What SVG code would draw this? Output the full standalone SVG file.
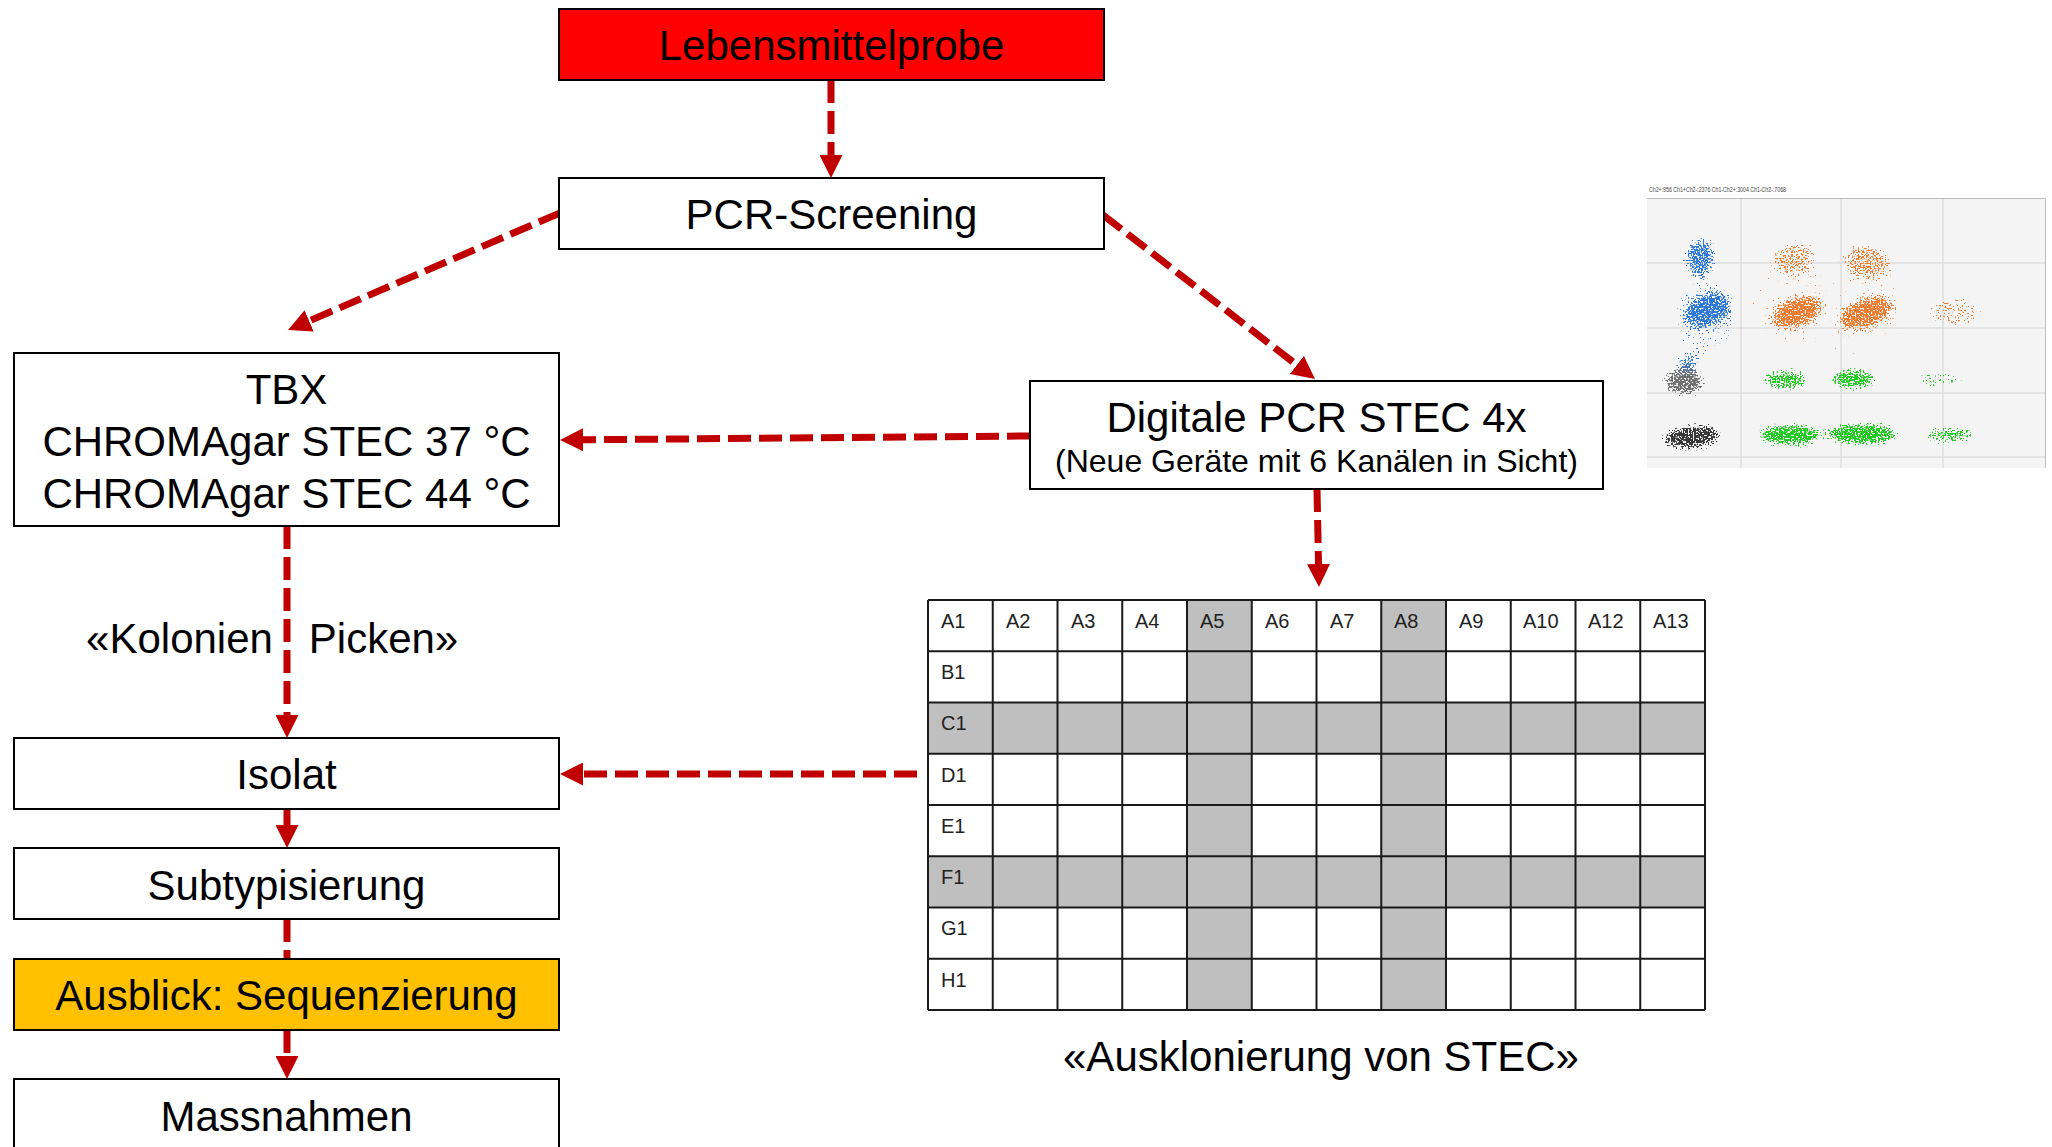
<svg xmlns="http://www.w3.org/2000/svg" width="2052" height="1147" viewBox="0 0 2052 1147">
<style>
.box{fill:#FFFFFF;stroke:#000000;stroke-width:2}
.t42{font-family:"Liberation Sans",Arial,sans-serif;font-size:42px;fill:#000000;text-anchor:middle}
.t32{font-family:"Liberation Sans",Arial,sans-serif;font-size:32px;fill:#000000;text-anchor:middle}
.cell{font-family:"Liberation Sans",Arial,sans-serif;font-size:20px;fill:#222222}
.con{fill:none;stroke:#C00000;stroke-width:7;stroke-dasharray:23 8;marker-end:url(#ah)}
.conplain{fill:none;stroke:#C00000;stroke-width:7;stroke-dasharray:23 8}
.grid{fill:none;stroke:#1A1A1A;stroke-width:2}
.shade{fill:#BFBFBF}
.pgrid{fill:none;stroke:#D4D4D4;stroke-width:1}
</style>
<defs>
<marker id="ah" markerUnits="userSpaceOnUse" markerWidth="23" markerHeight="23" refX="3" refY="11.5" orient="auto">
<path d="M0,0 L23,11.5 L0,23 z" fill="#C00000"/>
</marker>
<filter id="speckle" filterUnits="userSpaceOnUse" x="1645" y="198" width="402" height="272" color-interpolation-filters="sRGB">
<feGaussianBlur in="SourceGraphic" stdDeviation="5" result="soft"/>
<feColorMatrix in="soft" type="matrix" values="0 0 0 0 0  0 0 0 0 0  0 0 0 0 0  0 0 0 1 0" result="softA"/>
<feTurbulence type="fractalNoise" baseFrequency="0.6" numOctaves="1" seed="11" result="noise"/>
<feColorMatrix in="noise" type="matrix" values="0 0 0 0 0  0 0 0 0 0  0 0 0 0 0  1 0 0 0 0" result="na"/>
<feComposite in="softA" in2="na" operator="arithmetic" k1="0" k2="0.55" k3="1" k4="-0.92" result="sum"/>
<feComponentTransfer in="sum" result="mask"><feFuncA type="linear" slope="20" intercept="0"/></feComponentTransfer>
<feComponentTransfer in="soft" result="softB"><feFuncA type="linear" slope="8" intercept="0"/></feComponentTransfer>
<feComposite in="softB" in2="mask" operator="in"/>
</filter>
</defs>
<rect x="0" y="0" width="2052" height="1147" fill="#FFFFFF"/>

<g id="connectors">
<line class="con" x1="831" y1="80" x2="831" y2="158"/>
<line class="con" x1="560" y1="213" x2="306.4" y2="322.1"/>
<line class="con" x1="1103" y1="215" x2="1299.2" y2="366.8"/>
<line class="con" x1="1030" y1="436" x2="580" y2="439.8"/>
<line class="con" x1="1317" y1="489" x2="1318.6" y2="567"/>
<line class="con" x1="287" y1="526" x2="287" y2="718"/>
<line class="con" x1="917" y1="774" x2="580" y2="774"/>
<line class="con" x1="287" y1="809" x2="287" y2="828"/>
<line class="conplain" x1="287" y1="919" x2="287" y2="959"/>
<line class="con" x1="287" y1="1030" x2="287" y2="1059"/>
</g>

<g id="n_lebensmittelprobe">
<rect x="559" y="9" width="545" height="71" fill="#FF0000" stroke="#000000" stroke-width="2"/>
<text class="t42" x="831.5" y="60">Lebensmittelprobe</text>
</g>
<g id="n_pcr_screening">
<rect class="box" x="559" y="178" width="545" height="71"/>
<text class="t42" x="831.5" y="229">PCR-Screening</text>
</g>
<g id="n_tbx">
<rect class="box" x="14" y="353" width="545" height="173"/>
<text class="t42" x="286.5" y="404">TBX</text>
<text class="t42" x="286.5" y="456">CHROMAgar STEC 37 °C</text>
<text class="t42" x="286.5" y="508">CHROMAgar STEC 44 °C</text>
</g>
<g id="n_digitale_pcr">
<rect class="box" x="1030" y="381" width="573" height="108"/>
<text class="t42" x="1316.5" y="432">Digitale PCR STEC 4x</text>
<text class="t32" x="1316.5" y="472">(Neue Geräte mit 6 Kanälen in Sicht)</text>
</g>
<g id="n_isolat">
<rect class="box" x="14" y="738" width="545" height="71"/>
<text class="t42" x="286.5" y="789">Isolat</text>
</g>
<g id="n_subtypisierung">
<rect class="box" x="14" y="848" width="545" height="71"/>
<text class="t42" x="286.5" y="900">Subtypisierung</text>
</g>
<g id="n_ausblick">
<rect x="14" y="959" width="545" height="71" fill="#FFC000" stroke="#000000" stroke-width="2"/>
<text class="t42" x="286.5" y="1010">Ausblick: Sequenzierung</text>
</g>
<g id="n_massnahmen">
<rect class="box" x="14" y="1079" width="545" height="100"/>
<text class="t42" x="286.5" y="1131">Massnahmen</text>
</g>

<g id="label_kolonien">
<text class="t42" y="653"><tspan x="179.5">«Kolonien</tspan><tspan x="383.5">Picken»</tspan></text>
</g>

<g id="n_plate">
<rect x="928" y="600" width="777" height="410" fill="#FFFFFF"/>
<rect class="shade" x="1187" y="600" width="64.75" height="410"/>
<rect class="shade" x="1381.25" y="600" width="64.75" height="410"/>
<rect class="shade" x="928" y="702.5" width="777" height="51.25"/>
<rect class="shade" x="928" y="856.25" width="777" height="51.25"/>
<path class="grid" d="M928,600 H1705 M928,651.25 H1705 M928,702.5 H1705 M928,753.75 H1705 M928,805 H1705 M928,856.25 H1705 M928,907.5 H1705 M928,958.75 H1705 M928,1010 H1705 M928,600 V1010 M992.75,600 V1010 M1057.5,600 V1010 M1122.25,600 V1010 M1187,600 V1010 M1251.75,600 V1010 M1316.5,600 V1010 M1381.25,600 V1010 M1446,600 V1010 M1510.75,600 V1010 M1575.5,600 V1010 M1640.25,600 V1010 M1705,600 V1010"/>
<text class="cell" x="941" y="628">A1</text>
<text class="cell" x="1006" y="628">A2</text>
<text class="cell" x="1071" y="628">A3</text>
<text class="cell" x="1135" y="628">A4</text>
<text class="cell" x="1200" y="628">A5</text>
<text class="cell" x="1265" y="628">A6</text>
<text class="cell" x="1330" y="628">A7</text>
<text class="cell" x="1394" y="628">A8</text>
<text class="cell" x="1459" y="628">A9</text>
<text class="cell" x="1523" y="628">A10</text>
<text class="cell" x="1588" y="628">A12</text>
<text class="cell" x="1653" y="628">A13</text>
<text class="cell" x="941" y="679">B1</text>
<text class="cell" x="941" y="730">C1</text>
<text class="cell" x="941" y="782">D1</text>
<text class="cell" x="941" y="833">E1</text>
<text class="cell" x="941" y="884">F1</text>
<text class="cell" x="941" y="935">G1</text>
<text class="cell" x="941" y="987">H1</text>
</g>

<g id="label_ausklonierung">
<text class="t42" x="1321" y="1071">«Ausklonierung von STEC»</text>
</g>

<g id="n_scatterplot">
<text x="1649" y="192" font-family="'Liberation Sans',Arial,sans-serif" font-size="7" fill="#444444" textLength="137" lengthAdjust="spacingAndGlyphs">Ch2+:956 Ch1+Ch2-:2376 Ch1-Ch2+:3004 Ch1-Ch2-:7068</text>
<rect x="1647" y="198" width="398" height="270" fill="#F4F4F4"/>
<path class="pgrid" d="M1741,198 V468 M1841,198 V468 M1943,198 V468 M1647,263 H2045 M1647,328 H2045 M1647,393 H2045 M1647,457 H2045"/>
<path d="M1647,198.5 H2045.5 V468" fill="none" stroke="#BDBDBD" stroke-width="1"/>
<g filter="url(#speckle)">
<ellipse cx="1705" cy="318" rx="32" ry="40" fill="#2E78D8" fill-opacity="0.45"/>
<ellipse cx="1700" cy="258" rx="16" ry="21" fill="#2E78D8" fill-opacity="0.9"/>
<ellipse cx="1708" cy="310" rx="25" ry="16" fill="#2E78D8" transform="rotate(-20 1708 310)"/>
<ellipse cx="1688" cy="362" rx="12" ry="8" fill="#2E78D8" fill-opacity="0.85"/>
<ellipse cx="1684" cy="382" rx="21" ry="14" fill="#707070"/>
<ellipse cx="1692" cy="437" rx="31" ry="13" fill="#383838" transform="rotate(-6 1692 437)"/>
<ellipse cx="1830" cy="300" rx="85" ry="60" fill="#ED7D31" fill-opacity="0.32"/>
<ellipse cx="1793" cy="258" rx="20" ry="19" fill="#ED7D31" fill-opacity="0.62"/>
<ellipse cx="1868" cy="262" rx="23" ry="19" fill="#ED7D31" fill-opacity="0.66"/>
<ellipse cx="1797" cy="312" rx="27" ry="15" fill="#ED7D31" transform="rotate(-20 1797 312)"/>
<ellipse cx="1866" cy="313" rx="29" ry="15" fill="#ED7D31" transform="rotate(-20 1866 313)"/>
<ellipse cx="1955" cy="312" rx="28" ry="17" fill="#ED7D31" fill-opacity="0.6"/>
<ellipse cx="1786" cy="380" rx="24" ry="11" fill="#22C922" fill-opacity="0.9"/>
<ellipse cx="1853" cy="379" rx="24" ry="11" fill="#22C922" fill-opacity="0.95"/>
<ellipse cx="1940" cy="380" rx="28" ry="9" fill="#22C922" fill-opacity="0.6"/>
<ellipse cx="1790" cy="435" rx="33" ry="12" fill="#22C922"/>
<ellipse cx="1862" cy="434" rx="38" ry="12" fill="#22C922"/>
<ellipse cx="1950" cy="435" rx="27" ry="9" fill="#22C922" fill-opacity="0.85"/>
</g>
</g>
</svg>
